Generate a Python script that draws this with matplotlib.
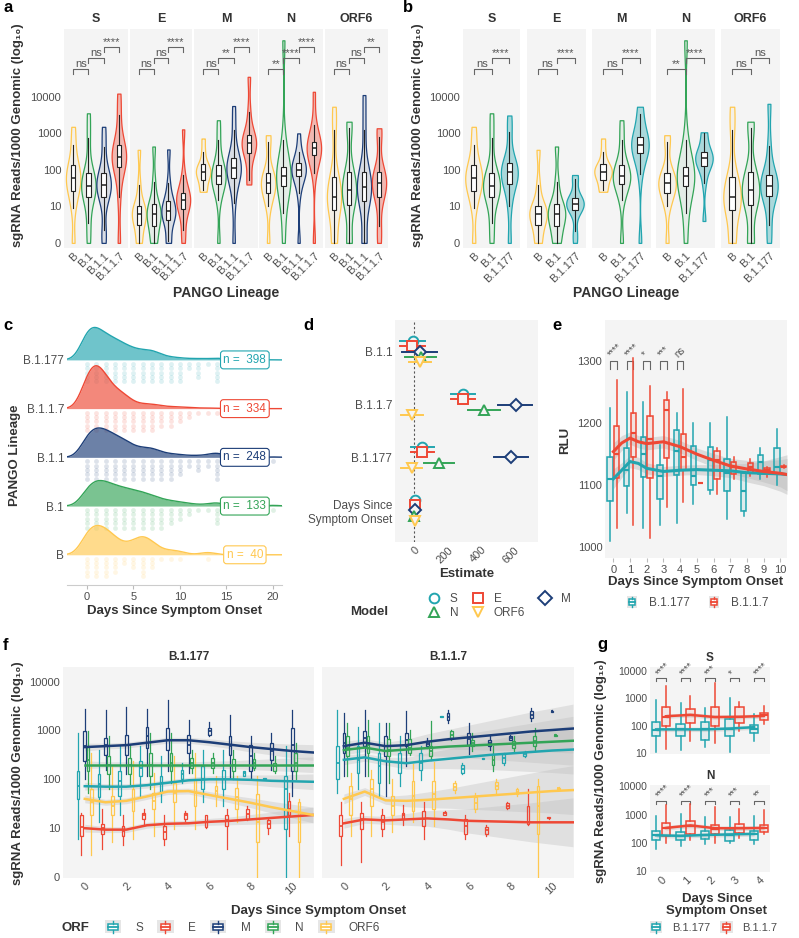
import numpy as np
import matplotlib
matplotlib.use('Agg')
import matplotlib.pyplot as plt
from matplotlib import mlab
from matplotlib.colors import to_rgba
from matplotlib.patches import Patch, Rectangle
from matplotlib.lines import Line2D
from matplotlib.legend_handler import HandlerBase

plt.rcParams['font.family'] = ['Liberation Sans', 'DejaVu Sans']

W, H = 799, 938
BG = '#F4F4F4'
TXT = '#4D4D4D'
DARK = '#333333'
COL = {'B': '#FFC84F', 'B.1': '#33A457', 'B.1.1': '#1D3E78',
       'B.1.1.7': '#EE4835', 'B.1.177': '#22A5AF'}
ORF_COL = {'S': '#22A5AF', 'E': '#EE4835', 'M': '#1D3E78', 'N': '#33A457', 'ORF6': '#FFC84F'}
LOG_TICKS = [0, 1, 2, 3, 4]
LOG_LABELS = ['0', '10', '100', '1000', '10000']

# ---------------- data ----------------
genes = ['S', 'E', 'M', 'N', 'ORF6']
a_lineages = ['B', 'B.1', 'B.1.1', 'B.1.1.7']
b_lineages = ['B', 'B.1', 'B.1.177']
# per lineage: [min, whisker low, q1, median, q3, whisker high, max]  (log10 scale)
a_S = [[0, 0.95, 1.41, 1.77, 2.14, 2.68, 3.18], [0, 0.55, 1.27, 1.56, 1.91, 2.86, 3.55],
       [0, 0.36, 1.27, 1.59, 1.91, 2.64, 3.18], [0, 1.27, 2.09, 2.36, 2.68, 3.50, 4.09]]
a_E = [[0, 0, 0.50, 0.80, 1.00, 1.59, 2.55], [0, 0, 0.47, 0.80, 1.07, 1.68, 2.64],
       [0, 0.05, 0.64, 0.86, 1.14, 1.64, 2.56], [0, 0.36, 0.93, 1.18, 1.38, 1.86, 3.11]]
a_M = [[1.40, 1.44, 1.73, 1.95, 2.15, 2.50, 2.86], [0, 1.18, 1.61, 1.82, 2.14, 2.82, 3.36],
       [0, 1.09, 1.77, 2.05, 2.32, 3.09, 3.75], [1.60, 1.73, 2.45, 2.73, 2.95, 3.59, 4.55]]
a_N = [[0, 1.00, 1.36, 1.65, 1.91, 2.77, 2.95], [0, 0.82, 1.55, 1.82, 2.09, 2.82, 5.55],
       [0, 1.36, 1.82, 2.00, 2.18, 2.50, 3.00], [0, 1.91, 2.41, 2.59, 2.77, 3.23, 4.14]]
a_ORF6 = [[0, 0, 0.91, 1.27, 1.80, 3.09, 3.73], [0, 0, 1.05, 1.45, 1.93, 3.14, 3.32],
          [0, 0, 1.14, 1.53, 1.94, 3.09, 4.05], [0, 0.45, 1.27, 1.65, 1.95, 2.91, 3.14]]
b_B1177 = [[0, 1.00, 1.61, 1.93, 2.20, 3.03, 3.49], [0, 0.32, 0.89, 1.07, 1.24, 1.74, 1.86],
           [0, 1.88, 2.45, 2.69, 2.91, 3.53, 3.73], [0.60, 1.65, 2.11, 2.32, 2.48, 3.00, 3.03],
           [0, 0.50, 1.28, 1.56, 1.86, 2.66, 3.81]]
a_sig = [['ns', 'ns', '****'], ['ns', 'ns', '****'], ['ns', '**', '****'],
         ['**', '****', '****'], ['ns', 'ns', '**']]
b_sig = [['ns', '****'], ['ns', '****'], ['ns', '****'], ['**', '****'], ['ns', 'ns']]

c_lineages = ['B', 'B.1', 'B.1.1', 'B.1.1.7', 'B.1.177']
c_days = np.arange(0, 21)
c_B = [6, 7, 6, 4, 2, 3, 5, 3, 1, 1, 1, 0, 0, 1, 0, 0, 0, 0, 0, 0, 0]
c_B1 = [15, 20, 18, 15, 13, 12, 10, 8, 5, 4, 3, 2, 1, 1, 4, 0, 1, 0, 0, 0, 1]
c_B11 = [35, 43, 38, 30, 25, 15, 12, 15, 6, 5, 4, 2, 3, 2, 10, 0, 1, 1, 0, 0, 1]
c_B117 = [70, 95, 60, 35, 30, 10, 8, 10, 4, 4, 3, 2, 1, 1, 1, 0, 0, 0, 0, 0, 0]
c_B1177 = [80, 75, 55, 47, 35, 25, 20, 25, 10, 6, 5, 2, 4, 1, 6, 1, 0, 0, 1, 0, 0]

d_terms = ['B.1.1', 'B.1.1.7', 'B.1.177', 'Days Since\nSymptom Onset']
# (estimate, low, high) per term
d_S = [(-5, -82, 68), (292, 220, 368), (48, -20, 120), (4, -2, 10)]
d_E = [(-10, -85, 65), (292, 220, 368), (48, -20, 120), (4, -2, 10)]
d_M = [(35, -70, 138), (612, 504, 708), (582, 480, 684), (4, -4, 12)]
d_N = [(40, -56, 134), (418, 324, 514), (150, 58, 238), (0, -8, 8)]
d_ORF6 = [(35, -30, 104), (-12, -76, 54), (-12, -78, 50), (8, 0, 16)]

e_days = list(range(11))
# (whisker low, q1, median, q3, whisker high)
e_B1177 = [(1010, 1075, 1110, 1145, 1225), (1055, 1098, 1125, 1160, 1250), (1030, 1113, 1150, 1178, 1235),
           (1035, 1078, 1115, 1133, 1165), (1038, 1116, 1155, 1189, 1217), (1070, 1100, 1115, 1163, 1200),
           (1085, 1092, 1140, 1162, 1200), (1045, 1090, 1120, 1142, 1210), (1050, 1058, 1090, 1120, 1120),
           (1110, 1118, 1137, 1148, 1160), (1100, 1120, 1130, 1160, 1190)]
e_B117 = [(1030, 1111, 1150, 1195, 1270), (1035, 1146, 1184, 1217, 1305), (1015, 1111, 1175, 1212, 1260),
          (1065, 1143, 1222, 1238, 1250), (1072, 1125, 1145, 1183, 1255), (1103, 1103, 1103, 1104, 1104),
          (1085, 1110, 1140, 1155, 1160), (1110, 1118, 1130, 1138, 1145), (1115, 1120, 1130, 1135, 1142),
          (1113, 1118, 1124, 1128, 1130), (1128, 1129, 1130, 1131, 1132)]
e_line_x = [0, 0.5, 1, 1.5, 2, 3, 4, 5, 6, 7, 8, 9, 10, 10.4]
e_line_B1177 = [1110, 1124, 1138, 1135, 1127, 1122, 1124, 1125, 1124, 1123, 1120, 1119, 1118, 1117]
e_line_B117 = [1154, 1168, 1176, 1170, 1167, 1170, 1162, 1150, 1140, 1131, 1126, 1122, 1119, 1117]
e_ci_B1177 = [16, 12, 10, 10, 9, 8, 8, 8, 9, 11, 15, 20, 28, 32]
e_ci_B117 = [14, 12, 10, 10, 10, 10, 10, 10, 11, 12, 14, 17, 22, 26]
e_sig = ['****', '****', '*', '***', 'ns']

f_days = list(range(11))
f177_S = [(0.78, 1.59, 1.86, 2.17, 2.95), (1.12, 1.63, 1.9, 2.1, 2.61), (1.26, 1.66, 1.97, 2.17, 2.68),
          (1.66, 2.07, 2.24, 2.37, 2.68), (1.53, 1.73, 1.93, 2.07, 2.47), (1.93, 2.0, 2.1, 2.2, 2.34),
          (1.53, 1.8, 2.0, 2.27, 2.61), (1.46, 1.8, 2.0, 2.2, 2.61), (2.07, 2.07, 2.12, 2.17, 2.17),
          (2.0, 2.0, 2.01, 2.03, 2.03), (0, 0.99, 1.8, 2.07, 2.68)]
f177_E = [(0.45, 0.85, 1.02, 1.26, 1.32), (0.58, 0.89, 1.0, 1.09, 1.39), (0.65, 0.85, 0.95, 1.05, 1.26),
          (1.09, 1.19, 1.26, 1.31, 1.39), (0.65, 0.78, 0.92, 1.05, 1.26), (1.14, 1.19, 1.26, 1.32, 1.36),
          (1.0, 1.02, 1.12, 1.26, 1.28), (0.58, 1.05, 1.16, 1.26, 1.39), (1.16, 1.19, 1.29, 1.39, 1.46),
          (0.89, 1.0, 1.09, 1.16, 1.19), (0.85, 1.26, 1.39, 1.56, 1.73)]
f177_M = [(2.0, 2.37, 2.68, 2.98, 3.45), (2.2, 2.5, 2.71, 2.84, 3.42), (2.1, 2.5, 2.71, 2.91, 3.49),
          (2.07, 2.64, 2.88, 3.08, 3.45), (2.17, 2.61, 2.81, 3.05, 3.62), (2.14, 2.54, 2.71, 2.91, 3.22),
          (2.88, 2.91, 2.98, 3.05, 3.18), (2.03, 2.5, 2.68, 2.88, 3.32), (2.03, 2.17, 2.47, 2.71, 2.88),
          (2.2, 2.4, 2.57, 2.74, 2.95), (1.66, 2.17, 2.71, 3.05, 3.42)]
f177_N = [(1.73, 2.17, 2.4, 2.68, 2.98), (1.8, 2.1, 2.3, 2.47, 2.88), (1.9, 2.1, 2.3, 2.44, 2.71),
          (1.8, 2.07, 2.3, 2.54, 2.95), (1.93, 2.17, 2.34, 2.54, 2.95), (2.14, 2.24, 2.34, 2.44, 2.61),
          (2.14, 2.24, 2.34, 2.44, 2.54), (2.0, 2.17, 2.3, 2.41, 2.61), (2.2, 2.24, 2.34, 2.41, 2.54),
          (2.14, 2.17, 2.27, 2.34, 2.47), (2.0, 2.17, 2.34, 2.54, 2.74)]
f177_ORF6 = [(0.45, 1.26, 1.53, 1.8, 2.54), (0.72, 1.26, 1.46, 1.66, 2.27), (0.78, 1.36, 1.59, 1.8, 2.37),
             (0.85, 1.39, 1.56, 1.73, 2.14), (0.99, 1.53, 1.73, 1.93, 2.47), (0.99, 1.46, 1.73, 2.0, 2.54),
             (1.46, 1.66, 1.76, 1.86, 2.07), (1.12, 1.39, 1.63, 1.83, 2.07), (0, 0.72, 1.12, 1.7, 2.07),
             None, (0, 0.72, 1.12, 1.53, 1.59)]
f117_S = [(1.73, 2.0, 2.34, 2.68, 3.42), (1.8, 2.14, 2.4, 2.68, 3.08), (1.66, 1.93, 2.27, 2.54, 3.15),
          (1.86, 2.14, 2.34, 2.54, 2.88), (1.98, 2.2, 2.34, 2.54, 2.68), (3.27, 3.27, 3.28, 3.29, 3.29),
          (2.1, 2.14, 2.22, 2.3, 2.34), (2.41, 2.41, 2.42, 2.43, 2.43), (2.3, 2.34, 2.43, 2.51, 2.54),
          (2.45, 2.47, 2.51, 2.55, 2.57), None]
f117_E = [(0.24, 0.85, 1.05, 1.26, 1.53), (0.31, 0.99, 1.19, 1.32, 1.53), (0.85, 0.99, 1.12, 1.26, 1.39),
          (1.06, 1.19, 1.26, 1.32, 1.47), (0.78, 1.05, 1.19, 1.36, 1.53), (1.26, 1.27, 1.31, 1.34, 1.36),
          (0.78, 0.89, 1.04, 1.19, 1.26), (0.85, 0.89, 0.96, 1.03, 1.06), (1.39, 1.41, 1.46, 1.51, 1.53),
          (1.06, 1.09, 1.13, 1.45, 1.8), (1.19, 1.2, 1.21, 1.22, 1.23)]
f117_M = [(2.07, 2.54, 2.74, 2.95, 3.35), (2.07, 2.68, 2.84, 2.98, 3.42), (1.66, 2.47, 2.68, 2.88, 3.15),
          (2.27, 2.68, 2.8, 2.95, 3.39), (2.64, 2.68, 2.73, 2.78, 2.85), (3.15, 3.22, 3.28, 3.35, 3.42),
          (2.51, 2.71, 2.83, 2.95, 3.15), (2.61, 2.68, 2.74, 2.81, 2.88), (2.8, 2.81, 2.85, 2.88, 2.9),
          (3.2, 3.25, 3.32, 3.39, 3.46), (3.37, 3.38, 3.39, 3.4, 3.41)]
f117_N = [(2.07, 2.47, 2.65, 2.88, 3.15), (2.07, 2.54, 2.71, 2.88, 3.22), (1.93, 2.47, 2.61, 2.82, 3.15),
          (2.5, 2.54, 2.65, 2.82, 3.02), (2.4, 2.47, 2.57, 2.68, 3.19), (2.8, 2.84, 2.91, 2.98, 3.02),
          (2.59, 2.68, 2.74, 2.81, 2.95), (2.17, 2.3, 2.4, 2.51, 2.68), (2.59, 2.65, 2.71, 2.78, 2.88),
          (2.57, 2.68, 2.78, 2.88, 3.05), (2.88, 2.89, 2.9, 2.91, 2.92)]
f117_ORF6 = [(0.85, 1.26, 1.59, 1.86, 2.14), (0.85, 1.46, 1.8, 2.0, 2.2), (0.92, 1.26, 1.46, 1.66, 2.0),
             (1.13, 1.36, 1.66, 1.97, 2.31), (1.05, 1.39, 1.69, 1.97, 2.35), (1.73, 1.78, 1.85, 1.92, 1.96),
             (1.33, 1.39, 1.51, 1.63, 1.73), (1.73, 1.8, 1.87, 1.94, 2.0), (1.66, 1.7, 1.75, 1.8, 1.83),
             (0, 0.89, 1.46, 1.87, 2.0), (1.8, 1.81, 1.82, 1.83, 1.84)]
f_line_x = list(range(12))
f177_lines = {'S': [1.86, 1.85, 1.85, 1.88, 1.93, 1.98, 2.0, 2.0, 1.99, 1.97, 1.96, 1.95],
              'E': [1.0, 0.97, 0.97, 1.06, 1.09, 1.1, 1.13, 1.15, 1.18, 1.21, 1.24, 1.27],
              'M': [2.66, 2.68, 2.7, 2.75, 2.8, 2.8, 2.76, 2.71, 2.66, 2.62, 2.58, 2.55],
              'N': [2.3, 2.3, 2.3, 2.3, 2.3, 2.3, 2.3, 2.3, 2.3, 2.3, 2.3, 2.3],
              'ORF6': [1.6, 1.53, 1.56, 1.65, 1.75, 1.76, 1.68, 1.6, 1.52, 1.43, 1.35, 1.27]}
f117_lines = {'S': [2.4, 2.45, 2.37, 2.33, 2.38, 2.42, 2.46, 2.5, 2.53, 2.56, 2.59, 2.61],
              'E': [1.1, 1.18, 1.16, 1.18, 1.2, 1.18, 1.15, 1.14, 1.13, 1.12, 1.12, 1.12],
              'M': [2.68, 2.75, 2.68, 2.7, 2.77, 2.82, 2.86, 2.9, 2.94, 2.98, 3.01, 3.04],
              'N': [2.6, 2.65, 2.58, 2.61, 2.64, 2.67, 2.69, 2.71, 2.73, 2.75, 2.77, 2.79],
              'ORF6': [1.6, 1.75, 1.57, 1.56, 1.58, 1.61, 1.64, 1.67, 1.7, 1.73, 1.76, 1.78]}
f177_ci = [0.08, 0.06, 0.06, 0.06, 0.06, 0.06, 0.07, 0.08, 0.1, 0.12, 0.14, 0.16]
f117_ci = [0.1, 0.08, 0.08, 0.12, 0.16, 0.2, 0.25, 0.3, 0.35, 0.4, 0.45, 0.5]

g_days = [0, 1, 2, 3, 4]
gS_B1177 = [(1.04, 1.64, 1.85, 2.14, 2.96), (1.1, 1.63, 1.87, 2.05, 2.84), (1.21, 1.5, 1.87, 2.14, 2.66),
            (1.04, 1.63, 1.9, 2.24, 3.03), (1.45, 1.72, 1.87, 2.02, 2.42)]
gS_B117 = [(1.15, 1.98, 2.32, 2.67, 3.45), (1.45, 2.11, 2.38, 2.62, 3.09), (1.36, 2.0, 2.32, 2.67, 3.57),
           (1.8, 2.11, 2.33, 2.67, 2.87), (2.06, 2.21, 2.38, 2.48, 2.72)]
gN_B1177 = [(1.78, 2.11, 2.29, 2.43, 2.95), (1.89, 2.11, 2.23, 2.38, 3.04), (1.95, 2.14, 2.29, 2.43, 2.9),
            (2.0, 2.07, 2.29, 2.47, 2.9), (1.95, 2.11, 2.3, 2.43, 2.95)]
gN_B117 = [(2.0, 2.23, 2.53, 2.71, 3.33), (2.1, 2.31, 2.59, 2.77, 3.39), (2.0, 2.31, 2.5, 2.65, 3.27),
           (2.17, 2.35, 2.53, 2.67, 3.21), (2.3, 2.38, 2.53, 2.65, 3.15)]
gS_line_B1177 = [1.87, 1.87, 1.87, 1.9, 1.95]
gS_line_B117 = [2.35, 2.4, 2.32, 2.33, 2.36]
gN_line_B1177 = [2.27, 2.25, 2.28, 2.3, 2.32]
gN_line_B117 = [2.53, 2.62, 2.52, 2.52, 2.53]
gS_sig = ['****', '****', '***', '*', '****']
gN_sig = ['****', '****', '***', '***', '**']


# ---------------- helpers ----------------
fig = plt.figure(figsize=(W / 100, H / 100), dpi=100)


def px_axes(x0, y0, x1, y1):
    return fig.add_axes([x0 / W, 1 - y1 / H, (x1 - x0) / W, (y1 - y0) / H])


def ftext(x, y, s, **kw):
    fig.text(x / W, 1 - y / H, s, **kw)


def style(ax, bg=BG):
    ax.set_facecolor(bg)
    for s in ax.spines.values():
        s.set_visible(False)
    ax.tick_params(length=0, labelsize=8, labelcolor=TXT, pad=2)


def box(ax, st, pos, color, width, face='none', lw=0.9, medc=None, z=3):
    lo, q1, med, q3, hi = st
    ax.bxp([dict(whislo=lo, q1=q1, med=med, q3=q3, whishi=hi, fliers=[])],
           positions=[pos], widths=width, patch_artist=True, showfliers=False,
           showcaps=False, manage_ticks=False,
           boxprops=dict(facecolor=face, edgecolor=color, linewidth=lw),
           whiskerprops=dict(color=color, linewidth=lw),
           medianprops=dict(color=medc or color, linewidth=lw * 1.4), zorder=z)


def bracket(ax, x1, x2, y, leg, label, rot=0, fs=8):
    ax.plot([x1, x1, x2, x2], [y - leg, y, y, y - leg], color='#666666', lw=0.8, clip_on=False)
    if rot:
        ax.text((x1 + x2) / 2, y + leg * 0.3, label, ha='left', va='bottom', rotation=rot,
                rotation_mode='anchor', fontsize=fs - 1, color='#555555')
    else:
        ax.text((x1 + x2) / 2, y, label, ha='center', va='bottom', fontsize=fs, color='#555555')


class BoxKey(HandlerBase):
    def create_artists(self, legend, orig, xd, yd, w, h, fs, trans):
        c = orig.get_edgecolor()
        x0, y0 = -xd, -yd
        bg = Rectangle((x0, y0 - 0.3 * h), w, h * 1.6, fc='#E6E6E6', ec='none', transform=trans)
        bx = Rectangle((x0 + 0.2 * w, y0 + 0.1 * h), 0.6 * w, 0.8 * h, fc='white', ec=c, lw=1.1,
                       transform=trans)
        md = Line2D([x0 + 0.2 * w, x0 + 0.8 * w], [y0 + 0.5 * h] * 2, color=c, lw=1.3, transform=trans)
        wl = Line2D([x0 + 0.5 * w] * 2, [y0 - 0.2 * h, y0 + 0.1 * h], color=c, lw=1, transform=trans)
        wh = Line2D([x0 + 0.5 * w] * 2, [y0 + 0.9 * h, y0 + 1.2 * h], color=c, lw=1, transform=trans)
        return [bg, bx, md, wl, wh]


def violin_facet(ax, stats, colors, alphas, sig, title, first):
    style(ax)
    for i, st in enumerate(stats):
        vmin, lo, q1, med, q3, hi, vmax = st
        sample = [vmin, lo, q1, q1, med, med, med, q3, q3, hi, vmax]
        vp = ax.violinplot([sample], positions=[i], widths=0.95, showextrema=False, bw_method=0.4)
        for b in vp['bodies']:
            b.set_facecolor(to_rgba(colors[i], alphas[i]))
            b.set_edgecolor(colors[i])
            b.set_linewidth(0.9)
            b.set_alpha(None)
        box(ax, (lo, q1, med, q3, hi), i, '#222222', 0.28, face='white', lw=0.8, z=4)
    levels = [4.77, 5.07, 5.36]
    for k, lab in enumerate(sig):
        bracket(ax, k, k + 1, levels[k], 0.13, lab)
    ax.set_ylim(-0.14, 5.86)
    ax.set_xlim(-0.6, len(stats) - 0.4)
    ax.set_yticks(LOG_TICKS)
    ax.set_yticklabels(LOG_LABELS if first else [])
    ax.set_xticks(range(len(stats)))
    ax.set_title(title, fontsize=9, fontweight='bold', color=DARK, pad=5)


# ---------------- panel a / b ----------------
a_pos = [(64, 128), (130, 192), (194, 258), (259, 323), (325, 388)]
b_pos = [(463, 520), (527, 586), (592, 651), (656, 715), (721, 780)]
a_all = [a_S, a_E, a_M, a_N, a_ORF6]
for gi, gene in enumerate(genes):
    ax = px_axes(a_pos[gi][0], 29, a_pos[gi][1], 248)
    violin_facet(ax, a_all[gi], [COL[l] for l in a_lineages], [0.08, 0.08, 0.12, 0.35],
                 a_sig[gi], gene, gi == 0)
    ax.set_xticklabels(a_lineages, rotation=45, ha='right', rotation_mode='anchor', fontsize=8)
    bx = px_axes(b_pos[gi][0], 29, b_pos[gi][1], 248)
    stats_b = [a_all[gi][0], a_all[gi][1], b_B1177[gi]]
    violin_facet(bx, stats_b, [COL[l] for l in b_lineages], [0.08, 0.08, 0.35],
                 b_sig[gi], gene, gi == 0)
    bx.set_xticklabels(b_lineages, rotation=45, ha='right', rotation_mode='anchor', fontsize=8)

ylab = 'sgRNA Reads/1000 Genomic (log₁₀)'
ftext(18, 135, ylab, rotation=90, ha='center', va='center', fontsize=9.5, fontweight='bold', color=DARK)
ftext(418, 135, ylab, rotation=90, ha='center', va='center', fontsize=9.5, fontweight='bold', color=DARK)
ftext(226, 293, 'PANGO Lineage', ha='center', va='center', fontsize=10, fontweight='bold', color=DARK)
ftext(626, 293, 'PANGO Lineage', ha='center', va='center', fontsize=10, fontweight='bold', color=DARK)

# ---------------- panel c ----------------
ax = px_axes(67, 318, 282, 585)
style(ax, 'white')
ax.spines['bottom'].set_visible(True)
ax.spines['bottom'].set_color('#CCCCCC')
counts_all = [c_B, c_B1, c_B11, c_B117, c_B1177]
grid = np.linspace(-2.2, 21, 500)
dens_all = []
for cnt in counts_all:
    data = np.repeat(c_days, cnt).astype(float)
    kde = mlab.GaussianKDE(data, bw_method=0.85 / np.std(data))
    dens_all.append(kde.evaluate(grid))
dmax = max(d.max() for d in dens_all)
dot_off = [0.08, 0.17, 0.26, 0.35, 0.44]
for i in range(len(c_lineages) - 1, -1, -1):
    lin = c_lineages[i]
    c = COL[lin]
    z = 20 - 3 * i
    h = dens_all[i] / dmax * 0.88
    ax.fill_between(grid, i, i + h, color=c, alpha=0.65, lw=0, zorder=z)
    ax.plot(grid, i + h, color=c, lw=1.0, zorder=z + 1)
    for d, n in zip(c_days, counts_all[i]):
        k = min(n, 5)
        if k:
            ax.scatter([d] * k, [i - o for o in dot_off[:k]], s=12, color=c, alpha=0.15,
                       lw=0, zorder=z - 1)
    ax.text(17, i, f'n =  {sum(counts_all[i])}', color=c, fontsize=8.5, ha='center', va='center',
            zorder=z + 2, bbox=dict(boxstyle='round,pad=0.25', fc='white', ec=c, lw=0.8))
ax.set_xlim(-2.15, 21)
ax.set_ylim(-0.62, 4.86)
ax.set_xticks([0, 5, 10, 15, 20])
ax.set_yticks(range(len(c_lineages)))
ax.set_yticklabels(c_lineages, fontsize=8.5)
ax.tick_params(axis='x', length=3, color='#BBBBBB')
ax.set_xlabel('Days Since Symptom Onset', fontsize=9.5, fontweight='bold', color=DARK, labelpad=2)
ftext(15, 455, 'PANGO Lineage', rotation=90, ha='center', va='center', fontsize=9.5,
      fontweight='bold', color=DARK)

# ---------------- panel d ----------------
ax = px_axes(395, 320, 538, 542)
style(ax)
d_all = [d_S, d_E, d_M, d_N, d_ORF6]
d_markers = ['o', 's', 'D', '^', 'v']
d_off = [-0.2, -0.1, 0, 0.1, 0.2]
ax.axvline(0, color='#555555', ls=(0, (2, 2)), lw=0.8, zorder=1)
for m, (model, rows) in enumerate(zip(genes, d_all)):
    c = ORF_COL[model]
    for t, (est, lo, hi) in enumerate(rows):
        y = t + d_off[m]
        ax.plot([lo, hi], [y, y], color=c, lw=1.4, zorder=2 + m)
        ax.plot(est, y, marker=d_markers[m], ms=7 if m != 2 else 6, mfc=BG, mec=c, mew=1.4,
                zorder=3 + m)
ax.set_xlim(-115, 745)
ax.set_ylim(3.6, -0.6)
ax.set_yticks(range(len(d_terms)))
ax.set_yticklabels(d_terms, fontsize=8.5)
ax.set_xticks([0, 200, 400, 600])
ax.set_xticklabels(['0', '200', '400', '600'], rotation=45, ha='right', rotation_mode='anchor')
ax.set_xlabel('Estimate', fontsize=9.5, fontweight='bold', color=DARK, labelpad=2)
d_handles = [Line2D([], [], ls='none', marker=d_markers[genes.index(g)], mfc='white',
                    mec=ORF_COL[g], mew=1.4, ms=7, label=g) for g in ['S', 'N', 'E', 'ORF6', 'M']]
fig.legend(handles=d_handles, loc='center left', bbox_to_anchor=(412 / W, 1 - 606 / H), ncol=3,
           frameon=False, fontsize=8.5, labelcolor=TXT, handletextpad=0.3, columnspacing=0.7,
           labelspacing=0.15)
ftext(369, 612, 'Model', ha='center', va='center', fontsize=9.5, fontweight='bold', color=DARK)

# ---------------- panel e ----------------
ax = px_axes(605, 320, 787, 558)
style(ax)
ex = np.array(e_line_x)
for lin, data, line, ci, off in [('B.1.177', e_B1177, e_line_B1177, e_ci_B1177, -0.2),
                                 ('B.1.1.7', e_B117, e_line_B117, e_ci_B117, 0.2)]:
    c = COL[lin]
    ax.fill_between(ex, np.array(line) - ci, np.array(line) + ci, color='#BBBBBB', alpha=0.45,
                    lw=0, zorder=1)
    for d, st in zip(e_days, data):
        box(ax, st, d + off, c, 0.32, face=to_rgba(c, 0.1), lw=1.1, z=3)
    ax.plot(ex, line, color=c, lw=2.2, zorder=5)
for d, lab in zip(e_days, e_sig):
    bracket(ax, d - 0.2, d + 0.2, 1300, 13, lab, rot=45, fs=8)
ax.set_xlim(-0.5, 10.4)
ax.set_ylim(982, 1367)
ax.set_xticks(e_days)
ax.set_yticks([1000, 1100, 1200, 1300])
ax.tick_params(axis='x', length=3, color='#BBBBBB')
ax.set_xlabel('Days Since Symptom Onset', fontsize=9.5, fontweight='bold', color=DARK, labelpad=1)
ftext(565, 440, 'RLU', rotation=90, ha='center', va='center', fontsize=9.5, fontweight='bold', color=DARK)
lin_handles = [Patch(edgecolor=COL['B.1.177'], label='B.1.177'),
               Patch(edgecolor=COL['B.1.1.7'], label='B.1.1.7')]
fig.legend(handles=lin_handles, loc='center left', bbox_to_anchor=(616 / W, 1 - 603 / H), ncol=2,
           frameon=False, fontsize=8.5, labelcolor=TXT, handler_map={Patch: BoxKey()},
           handlelength=0.9, handleheight=0.6, handletextpad=1.0, columnspacing=1.6)

# ---------------- panel f ----------------
f_off = [-0.32, -0.16, 0, 0.16, 0.32]
f_sets = [('B.1.177', (63, 314), [f177_S, f177_E, f177_M, f177_N, f177_ORF6], f177_lines, f177_ci),
          ('B.1.1.7', (322, 574), [f117_S, f117_E, f117_M, f117_N, f117_ORF6], f117_lines, f117_ci)]
for fi, (lin, (x0, x1), boxes, lines, ci) in enumerate(f_sets):
    ax = px_axes(x0, 667, x1, 878)
    style(ax)
    fx = np.array(f_line_x)
    for g in genes:
        ax.fill_between(fx, np.array(lines[g]) - ci, np.array(lines[g]) + ci, color='#BBBBBB',
                        alpha=0.35, lw=0, zorder=1)
    for gi, g in enumerate(genes):
        c = ORF_COL[g]
        for d, st in zip(f_days, boxes[gi]):
            if st is not None:
                box(ax, st, d + f_off[gi], c, 0.13, lw=0.9, z=3)
    for g in genes:
        ax.plot(fx, lines[g], color=ORF_COL[g], lw=1.8, zorder=5)
    ax.set_xlim(-1.05, 11.05)
    ax.set_ylim(-0.02, 4.3)
    ax.set_yticks(LOG_TICKS)
    ax.set_yticklabels(LOG_LABELS if fi == 0 else [])
    ax.set_xticks([0, 2, 4, 6, 8, 10])
    ax.set_xticklabels(['0', '2', '4', '6', '8', '10'], rotation=45, ha='right', rotation_mode='anchor')
    ax.set_title(lin, fontsize=8.5, fontweight='bold', color=DARK, pad=5)
ftext(18, 773, ylab, rotation=90, ha='center', va='center', fontsize=9.5, fontweight='bold', color=DARK)
ftext(319, 911, 'Days Since Symptom Onset', ha='center', va='center', fontsize=9.5,
      fontweight='bold', color=DARK)
orf_handles = [Patch(edgecolor=ORF_COL[g], label=g) for g in genes]
fig.legend(handles=orf_handles, loc='center left', bbox_to_anchor=(94 / W, 1 - 928 / H), ncol=5,
           frameon=False, fontsize=8.5, labelcolor=TXT, handler_map={Patch: BoxKey()},
           handlelength=1.4, handleheight=0.7, handletextpad=1.2, columnspacing=1.2)
ftext(75, 928, 'ORF', ha='center', va='center', fontsize=9.5, fontweight='bold', color=DARK)

# ---------------- panel g ----------------
g_sets = [('S', 667, 754, gS_B1177, gS_B117, gS_line_B1177, gS_line_B117, gS_sig, (0.97, 4.15), 3.73),
          ('N', 785, 872, gN_B1177, gN_B117, gN_line_B1177, gN_line_B117, gN_sig, (0.97, 4.05), 3.47)]
for k, (g, y0, y1, b177, b117, l177, l117, sig, ylim, blev) in enumerate(g_sets):
    ax = px_axes(650, y0, 770, y1)
    style(ax)
    gd = np.array(g_days, dtype=float)
    for lin, data, line, off in [('B.1.177', b177, l177, -0.2), ('B.1.1.7', b117, l117, 0.2)]:
        c = COL[lin]
        ax.fill_between(gd + off, np.array(line) - 0.08, np.array(line) + 0.08, color='#BBBBBB',
                        alpha=0.4, lw=0, zorder=1)
        for d, st in zip(g_days, data):
            box(ax, st, d + off, c, 0.34, face=to_rgba(c, 0.08), lw=1.1, z=3)
        ax.plot(gd + off, line, color=c, lw=1.8, zorder=5)
    for d, lab in zip(g_days, sig):
        bracket(ax, d - 0.2, d + 0.2, blev, 0.08, lab, rot=45, fs=8)
    ax.set_xlim(-0.45, 4.45)
    ax.set_ylim(*ylim)
    ax.set_yticks([1, 2, 3, 4])
    ax.set_yticklabels(['10', '100', '1000', '10000'], fontsize=7.5)
    ax.set_xticks(g_days)
    if k == 1:
        ax.set_xticklabels([str(d) for d in g_days], rotation=45, ha='right', rotation_mode='anchor')
    else:
        ax.set_xticklabels([])
    ax.set_title(g, fontsize=8.5, fontweight='bold', color=DARK, pad=4)
ftext(601, 771, ylab, rotation=90, ha='center', va='center', fontsize=9.5, fontweight='bold', color=DARK)
ftext(717, 905, 'Days Since\nSymptom Onset', ha='center', va='center', fontsize=9.5,
      fontweight='bold', color=DARK, linespacing=1.0)
fig.legend(handles=lin_handles, loc='center left', bbox_to_anchor=(640 / W, 1 - 928 / H), ncol=2,
           frameon=False, fontsize=8, labelcolor=TXT, handler_map={Patch: BoxKey()},
           handlelength=1.1, handleheight=0.7, handletextpad=0.9, columnspacing=0.9)

# ---------------- panel letters ----------------
for lab, x, y in [('a', 3, 8), ('b', 403, 8), ('c', 3, 325), ('d', 303, 325), ('e', 552, 325),
                  ('f', 3, 645), ('g', 597, 645)]:
    ftext(x, y, lab, ha='left', va='center', fontsize=12, fontweight='bold', color='black')

fig.savefig('out.png', dpi=100)
